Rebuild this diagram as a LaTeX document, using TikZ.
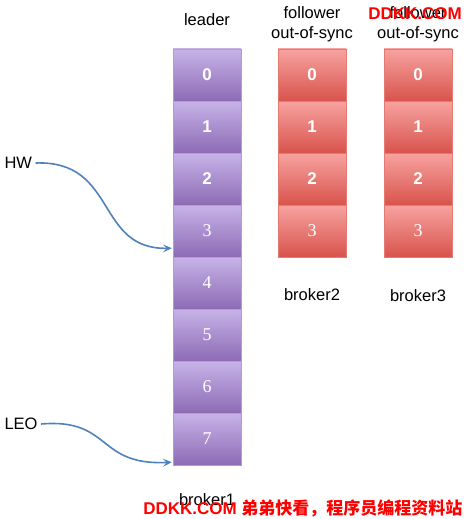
\documentclass[tikz,border=0pt]{standalone}
\usepackage{fontspec}
\setmainfont{Liberation Sans}
\newfontfamily\numserif{Liberation Serif}
\newfontfamily\cjk{Noto Sans CJK SC}
\usetikzlibrary{arrows.meta}

\definecolor{purpletop}{HTML}{C7B3E8}
\definecolor{purplebot}{HTML}{8C6BB4}
\definecolor{purpleedge}{HTML}{B09CD4}
\definecolor{redtop}{HTML}{F7A3A0}
\definecolor{redbot}{HTML}{D9534C}
\definecolor{rededge}{HTML}{E57A74}
\definecolor{arrowblue}{HTML}{4F81BD}
\definecolor{markred}{HTML}{FF0000}

\tikzset{
  cell/.style={minimum width=68pt, minimum height=52pt, inner sep=0pt,
    text=white, font=\fontsize{17}{18}\selectfont\bfseries},
  leadercell/.style={cell, draw=purpleedge, top color=purpletop, bottom color=purplebot},
  followcell/.style={cell, draw=rededge, top color=redtop, bottom color=redbot},
  serifnum/.style={font=\fontsize{18}{18}\selectfont\numserif},
  label/.style={font=\fontsize{16.5}{20}\selectfont, align=center},
  pointer/.style={-{Stealth[length=9pt,width=8pt,inset=4pt]}, arrowblue, line width=1.6pt},
  watermark/.style={text=markred, font=\fontsize{17}{20}\selectfont\bfseries}
}

\begin{document}
\begin{tikzpicture}[x=1pt, y=-1pt]
    \useasboundingbox (0,0) rectangle (468,519);

    % leader on broker1
    \foreach \i in {0,1,2}
        \node[leadercell] (l\i) at (207, 75+52*\i) {\i};
    \foreach \i in {3,...,7}
        \node[leadercell, serifnum] (l\i) at (207, 75+52*\i) {\i};

    % followers on broker2 and broker3
    \foreach \i in {0,1,2} {
        \node[followcell] (f\i) at (312, 75+52*\i) {\i};
        \node[followcell] (g\i) at (418, 75+52*\i) {\i};
    }
    \node[followcell, serifnum] (f3) at (312, 231) {3};
    \node[followcell, serifnum] (g3) at (418, 231) {3};

    % titles
    \node[label] (leader) at (207, 20) {leader};
    \node[label] (follow2) at (312, 24) {follower\\out-of-sync};
    \node[label] (follow3) at (418, 24) {follower\\out-of-sync};
    \node[label] (broker1) at (207, 500) {broker1};
    \node[label] (broker2) at (312, 295) {broker2};
    \node[label] (broker3) at (418, 296) {broker3};

    % offsets
    \node[label, anchor=west] (hw) at (1, 163) {HW};
    \node[label, anchor=west] (leo) at (1, 424) {LEO};
    \draw[pointer] (hw.east) .. controls (118,160) and (95,250) .. ([xshift=-1pt, yshift=9pt]l3.south west);
    \draw[pointer] (leo.east) .. controls (112,418) and (96,466) .. ([xshift=-1pt, yshift=3pt]l7.south west);

    % marks printed on the picture
    \node[watermark] (markA) at (415, 14) {DDKK.COM};
    \node[watermark, anchor=east] (markB) at (466, 508) {DDKK.COM {\cjk 弟弟快看，程序员编程资料站}};
\end{tikzpicture}
\end{document}
